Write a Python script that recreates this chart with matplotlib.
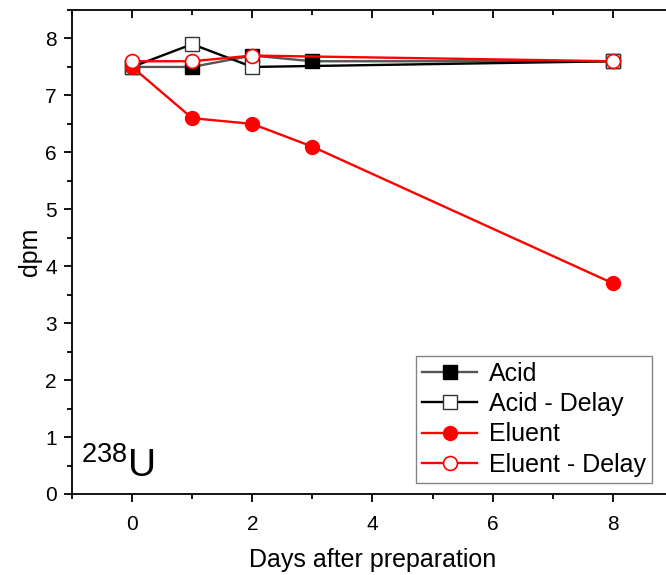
import matplotlib.pyplot as plt
from matplotlib.ticker import MultipleLocator

plt.rcParams['font.family'] = ['Liberation Sans', 'DejaVu Sans']
plt.rcParams['mathtext.fontset'] = 'custom'
plt.rcParams['mathtext.rm'] = 'Liberation Sans'

days = [0, 1, 2, 3, 8]
acid = [7.5, 7.5, 7.7, 7.6, 7.6]
eluent = [7.5, 6.6, 6.5, 6.1, 3.7]

days_delay = [0, 1, 2, 8]
acid_delay = [7.5, 7.9, 7.5, 7.6]
eluent_delay = [7.6, 7.6, 7.7, 7.6]

fig = plt.figure(figsize=(6.66, 5.75), dpi=100)
ax = fig.add_axes([0.1081, 0.1409, 0.9024, 0.8417])

ax.plot(days, acid, color='#555555', lw=1.7, marker='s', ms=10,
        mfc='black', mec='black', label='Acid')
ax.plot(days_delay, acid_delay, color='black', lw=1.7, marker='s', ms=10,
        mfc='white', mec='#333333', mew=1, label='Acid - Delay')
ax.plot(days, eluent, color='red', lw=1.7, marker='o', ms=10,
        mfc='red', mec='red', label='Eluent')
ax.plot(days_delay, eluent_delay, color='red', lw=1.7, marker='o', ms=10,
        mfc='white', mec='red', mew=1.2, label='Eluent - Delay')

ax.set_xlim(-1, 9)
ax.set_ylim(0, 8.5)
ax.xaxis.set_major_locator(MultipleLocator(2))
ax.xaxis.set_minor_locator(MultipleLocator(1))
ax.yaxis.set_major_locator(MultipleLocator(1))
ax.yaxis.set_minor_locator(MultipleLocator(0.5))
ax.tick_params(which='both', direction='out', width=1.3, labelsize=15)
ax.tick_params(which='major', length=6)
ax.tick_params(which='minor', length=3.5)
ax.tick_params(which='both', top=True, right=True)
ax.tick_params(axis='x', pad=9)
ax.tick_params(axis='y', pad=5)
for s in ax.spines.values():
    s.set_linewidth(1.3)

# ticks on top/right point inward
for t in ax.xaxis.get_major_ticks() + ax.xaxis.get_minor_ticks():
    t.tick2line.set_marker(3)
for t in ax.yaxis.get_major_ticks() + ax.yaxis.get_minor_ticks():
    t.tick2line.set_marker(1)

ax.set_xlabel('Days after preparation', fontsize=18, labelpad=10)
ax.set_ylabel('dpm', fontsize=18, labelpad=2)

ax.text(-0.85, 0.3, r'$^{238}$U', fontsize=28)

leg = ax.legend(loc='lower right', bbox_to_anchor=(0.965, 0.023),
                borderaxespad=0, fontsize=18, fancybox=False,
                edgecolor='#666666', handlelength=2.2, handletextpad=0.45,
                labelspacing=0.25, borderpad=0.25)
leg.get_frame().set_linewidth(1)

fig.savefig('out.png', dpi=100)
